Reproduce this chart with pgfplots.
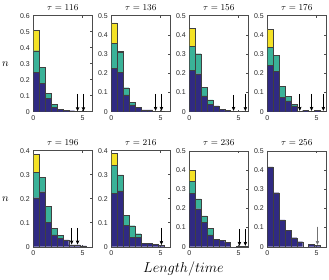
\documentclass[border=0pt]{standalone}
\usepackage{pgfplots}
\pgfplotsset{compat=1.18}
\usetikzlibrary{arrows.meta}
\usepackage{fontspec}
\newfontfamily\ticksans{Liberation Sans}

\definecolor{hnavy}{RGB}{48,42,130}
\definecolor{hteal}{RGB}{58,178,152}
\definecolor{hyellow}{RGB}{244,226,38}

\pgfplotsset{
  every axis title/.style={at={(0.5,1)}, anchor=base, yshift=5bp, font=\fontsize{9.5}{10}\selectfont},
  panel/.style={
    scale only axis, width=59bp, height=96bp,
    anchor=south west,
    xmin=0, xmax=6, ymin=0,
    xtick={0,5},
    tick align=inside,
    major tick length=2bp,
    ybar stacked, bar width=0.6,
    axis line style={black!70, line width=0.4pt},
    every tick/.append style={black!70, line width=0.4pt},
    tick label style={font=\ticksans\fontsize{7}{8}\selectfont, text=black!85},
    /pgf/number format/assume math mode=true,
    yticklabel style={/pgf/number format/fixed, /pgf/number format/precision=1},
  },
  sixth/.style={ymax=0.6, ytick={0,0.1,0.2,0.3,0.4,0.5,0.6}},
  fifth/.style={ymax=0.5, ytick={0,0.1,0.2,0.3,0.4,0.5}},
  fourth/.style={ymax=0.4, ytick={0,0.1,0.2,0.3,0.4}},
  bnavy/.style={fill=hnavy, draw=black!75, line width=0.35pt},
  bteal/.style={fill=hteal, draw=black!75, line width=0.35pt},
  byellow/.style={fill=hyellow, draw=black!75, line width=0.35pt},
}
\tikzset{
  rare/.style={-{Stealth[length=4bp,width=3.4bp,inset=0.6bp]}, line width=0.6pt, black},
}

\begin{document}
\begin{tikzpicture}
\useasboundingbox (0,0) rectangle (329bp,280bp);

% ---- row 1 ----
\begin{axis}[panel, sixth, at={(33.3bp,168.3bp)}, title={$\tau = 116$}]
\addplot[bnavy] coordinates {(0.3,0.248)(0.9,0.179)(1.5,0.083)(2.1,0.027)(2.7,0.015)(3.3,0.008)(3.9,0.006)(4.5,0.002)(5.1,0.002)};
\addplot[bteal] coordinates {(0.3,0.133)(0.9,0.100)(1.5,0.032)(2.1,0.019)};
\addplot[byellow] coordinates {(0.3,0.131)};
\draw[rare] (axis cs:4.5,0.112) -- (axis cs:4.5,0.003);
\draw[rare] (axis cs:5.1,0.112) -- (axis cs:5.1,0.003);
\end{axis}

\begin{axis}[panel, fifth, at={(111.3bp,168.3bp)}, title={$\tau = 136$}]
\addplot[bnavy] coordinates {(0.3,0.226)(0.9,0.204)(1.5,0.087)(2.1,0.035)(2.7,0.021)(3.3,0.009)(3.9,0.009)(4.5,0.003)(5.1,0.003)};
\addplot[bteal] coordinates {(0.3,0.131)(0.9,0.104)(1.5,0.038)(2.1,0.012)};
\addplot[byellow] coordinates {(0.3,0.105)(0.9,0.006)};
\draw[rare] (axis cs:4.5,0.093) -- (axis cs:4.5,0.004);
\draw[rare] (axis cs:5.1,0.093) -- (axis cs:5.1,0.004);
\end{axis}

\begin{axis}[panel, fifth, at={(189.3bp,168.3bp)}, title={$\tau = 156$}]
\addplot[bnavy] coordinates {(0.3,0.216)(0.9,0.198)(1.5,0.082)(2.1,0.040)(2.7,0.030)(3.3,0.014)(3.9,0.007)(4.5,0.003)(5.7,0.002)};
\addplot[bteal] coordinates {(0.3,0.126)(0.9,0.104)(1.5,0.046)(2.1,0.021)};
\addplot[byellow] coordinates {(0.3,0.091)};
\draw[rare] (axis cs:4.5,0.088) -- (axis cs:4.5,0.004);
\draw[rare] (axis cs:5.7,0.093) -- (axis cs:5.7,0.003);
\end{axis}

\begin{axis}[panel, fifth, at={(267.3bp,168.3bp)}, title={$\tau = 176$}]
\addplot[bnavy] coordinates {(0.3,0.240)(0.9,0.210)(1.5,0.074)(2.1,0.056)(2.7,0.030)(3.3,0.003)(3.9,0.008)(4.5,0.003)(5.1,0.006)(5.7,0.003)};
\addplot[bteal] coordinates {(0.3,0.095)(0.9,0.083)(1.5,0.058)(2.1,0.025)(2.7,0.010)};
\addplot[byellow] coordinates {(0.3,0.095)};
\draw[rare] (axis cs:3.3,0.093) -- (axis cs:3.3,0.004);
\draw[rare] (axis cs:4.5,0.093) -- (axis cs:4.5,0.004);
\draw[rare] (axis cs:5.7,0.093) -- (axis cs:5.7,0.004);
\end{axis}

% ---- row 2 ----
\begin{axis}[panel, fourth, at={(33.3bp,33.3bp)}, title={$\tau = 196$}]
\addplot[bnavy] coordinates {(0.3,0.204)(0.9,0.229)(1.5,0.101)(2.1,0.049)(2.7,0.035)(3.3,0.028)(3.9,0.008)(4.5,0.008)(5.1,0.003)};
\addplot[bteal] coordinates {(0.3,0.106)(0.9,0.060)(1.5,0.068)(2.1,0.027)(2.7,0.011)};
\addplot[byellow] coordinates {(0.3,0.075)};
\draw[rare] (axis cs:3.9,0.078) -- (axis cs:3.9,0.009);
\draw[rare] (axis cs:4.5,0.078) -- (axis cs:4.5,0.009);
\end{axis}

\begin{axis}[panel, fourth, at={(111.3bp,33.3bp)}, title={$\tau = 216$}]
\addplot[bnavy] coordinates {(0.3,0.222)(0.9,0.233)(1.5,0.090)(2.1,0.039)(2.7,0.039)(3.3,0.014)(3.9,0.014)(4.5,0.011)(5.1,0.006)};
\addplot[bteal] coordinates {(0.3,0.118)(0.9,0.066)(1.5,0.042)(2.1,0.0485)(2.7,0.015)};
\addplot[byellow] coordinates {(0.3,0.049)};
\draw[rare] (axis cs:5.1,0.078) -- (axis cs:5.1,0.007);
\end{axis}

\begin{axis}[panel, fifth, at={(189.3bp,33.3bp)}, title={$\tau = 236$}]
\addplot[bnavy] coordinates {(0.3,0.277)(0.9,0.198)(1.5,0.128)(2.1,0.061)(2.7,0.039)(3.3,0.033)(3.9,0.023)(5.1,0.003)(5.7,0.003)};
\addplot[bteal] coordinates {(0.3,0.065)(0.9,0.051)(1.5,0.033)(2.1,0.035)};
\addplot[byellow] coordinates {(0.3,0.058)};
\draw[rare] (axis cs:5.1,0.093) -- (axis cs:5.1,0.004);
\draw[rare] (axis cs:5.7,0.093) -- (axis cs:5.7,0.004);
\end{axis}

\begin{axis}[panel, fifth, at={(267.3bp,33.3bp)}, title={$\tau = 256$}]
\addplot[bnavy] coordinates {(0.3,0.416)(0.9,0.281)(1.5,0.140)(2.1,0.086)(2.7,0.047)(3.3,0.026)(4.5,0.013)(5.1,0.008)};
\draw[rare, draw=black!55, fill=black!55] (axis cs:5.1,0.104) -- (axis cs:5.1,0.009);
\end{axis}

% ---- shared labels ----
\node[anchor=base, font=\fontsize{11}{12}\selectfont] at (5.5bp,213.3bp) {$n$};
\node[anchor=base, font=\fontsize{11}{12}\selectfont] at (5.5bp,78.3bp) {$n$};
\node[anchor=base, font=\fontsize{14}{16}\selectfont] at (183.5bp,8bp) {$Length/time$};
\end{tikzpicture}
\end{document}
